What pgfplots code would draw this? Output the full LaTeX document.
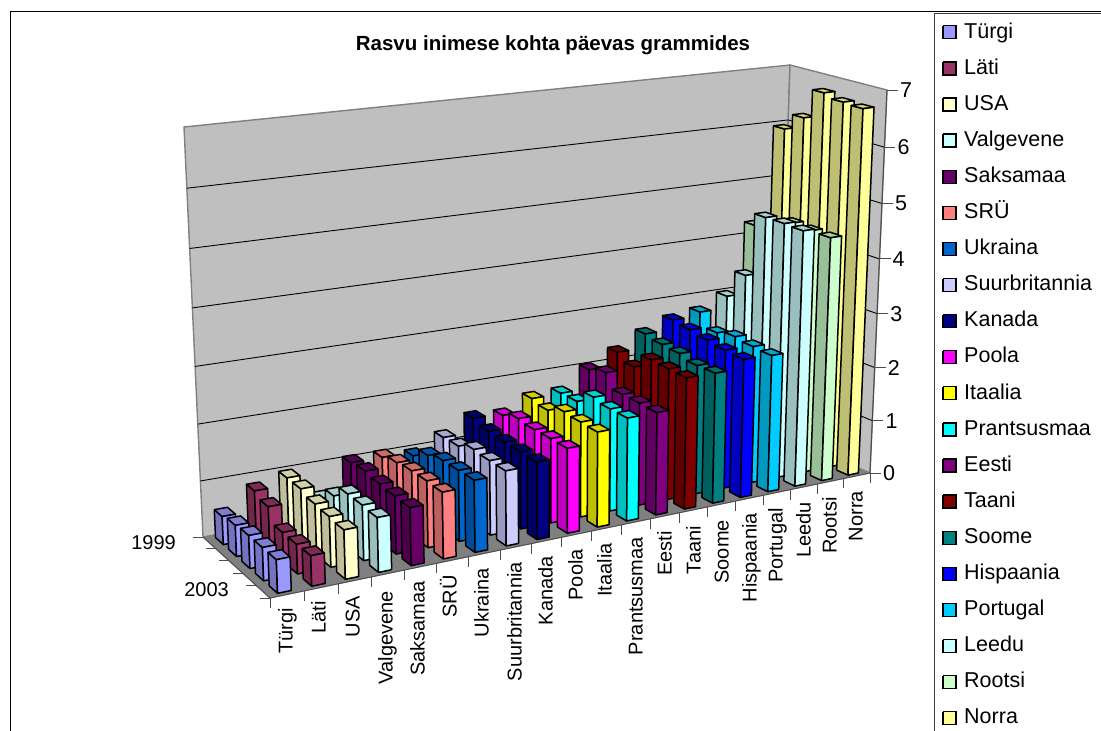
\documentclass[border=0pt]{standalone}
\usepackage{pgfplots}
\usepackage{pgfplotstable}
\usepackage{fontspec}
\setmainfont{Liberation Sans}
\pgfplotsset{compat=1.18}
\definecolor{bar0}{HTML}{9999FF}\definecolor{bar1}{HTML}{993366}\definecolor{bar2}{HTML}{FFFFCC}
\definecolor{bar3}{HTML}{CCFFFF}\definecolor{bar4}{HTML}{660066}\definecolor{bar5}{HTML}{FF8080}
\definecolor{bar6}{HTML}{0066CC}\definecolor{bar7}{HTML}{CCCCFF}\definecolor{bar8}{HTML}{000080}
\definecolor{bar9}{HTML}{FF00FF}\definecolor{bar10}{HTML}{FFFF00}\definecolor{bar11}{HTML}{00FFFF}
\definecolor{bar12}{HTML}{800080}\definecolor{bar13}{HTML}{800000}\definecolor{bar14}{HTML}{008080}
\definecolor{bar15}{HTML}{0000FF}\definecolor{bar16}{HTML}{00CCFF}\definecolor{bar17}{HTML}{CCFFFF}
\definecolor{bar18}{HTML}{CCFFCC}\definecolor{bar19}{HTML}{FFFF99}
\pgfplotstableread{
name a b c d e
Turgi 0.50 0.55 0.58 0.58 0.58
Lati 0.85 0.77 0.52 0.52 0.53
USA 0.98 0.98 0.91 0.89 0.86
Valgevene 0.50 0.75 0.98 0.98 0.96
Saksamaa 1.05 1.09 1.05 1.03 1.02
SRU 1.05 1.14 1.18 1.19 1.18
Ukraina 0.98 1.17 1.26 1.27 1.28
Suurbritannia 1.22 1.24 1.36 1.34 1.34
Kanada 1.48 1.41 1.39 1.39 1.39
Poola 1.44 1.55 1.52 1.53 1.53
Itaalia 1.66 1.61 1.75 1.73 1.72
Prantsusmaa 1.67 1.68 1.92 1.87 1.87
Eesti 2.02 2.12 1.88 1.88 1.87
Taani 2.26 2.14 2.42 2.41 2.40
Soome 2.52 2.47 2.45 2.38 2.39
Hispaania 2.70 2.66 2.61 2.57 2.55
Portugal 2.77 2.52 2.59 2.55 2.53
Leedu 2.99 3.51 4.69 4.70 4.69
Rootsi 4.24 4.30 4.52 4.50 4.49
Norra 5.95 6.25 6.79 6.72 6.70
}\datatbl
\newcommand\proj[3]{%
 \pgfmathsetmacro\tu{#1/20}\pgfmathsetmacro\tv{#2/5}\pgfmathsetmacro\tw{#3/7}%
 \pgfmathsetmacro\bA{(1-\tu)*(1-\tv)*2.352}\pgfmathsetmacro\bB{\tu*(1-\tv)*2.717}%
 \pgfmathsetmacro\bC{\tu*\tv*2.611}\pgfmathsetmacro\bD{(1-\tu)*\tv*2.26}%
 \pgfmathsetmacro\fW{\bA+\bB+\bC+\bD}%
 \pgfmathsetmacro\fX{\bA*203+\bB*778+\bC*870+\bD*270}%
 \pgfmathsetmacro\fY{\bA*537+\bB*433+\bC*473+\bD*598}%
 \pgfmathsetmacro\gX{\bA*184+\bB*790+\bC*887+\bD*254}%
 \pgfmathsetmacro\gY{\bA*127+\bB*65+\bC*90+\bD*171}%
 \pgfmathsetmacro\den{\fW*((1-\tw)+\tw*0.95)}%
 \pgfmathsetmacro\px{((1-\tw)*\fX+\tw*0.95*\gX)/\den}%
 \pgfmathsetmacro\py{((1-\tw)*\fY+\tw*0.95*\gY)/\den}%
}
\newcommand\clist{}
\newcommand\startl{\xdef\clist{}}
\newcommand\pt[3]{\proj{#1}{#2}{#3}\xdef\clist{\clist (\px,\py)}}
\newcommand\emit[1]{\edef\cmd{\noexpand\addplot[#1] coordinates {\clist};}\cmd}
\newcommand\catlab[3]{\node[rotate=90,anchor=base east,inner sep=0pt,font=\fontsize{20}{20}\selectfont] at (axis cs:#2+7.5,#3) {#1};}
\begin{document}
\begin{tikzpicture}
\path[use as bounding box] (0,0) rectangle (1101pt,731pt);
\begin{axis}[at={(0,0)},anchor=south west,scale only axis,width=1101pt,height=731pt,
  xmin=0,xmax=1101,ymin=0,ymax=731,y dir=reverse,hide axis,clip=true]
% chart frame
\addplot[black,line width=1pt] coordinates {(10.5,731) (10.5,11.5) (1101,11.5)};
% walls and floor
\startl\pt{0}{0}{0}\pt{20}{0}{0}\pt{20}{5}{0}\pt{0}{5}{0}\pt{0}{0}{0}
\emit{fill=black!50,draw=black!50,line width=1pt}
\startl\pt{0}{0}{0}\pt{20}{0}{0}\pt{20}{0}{7}\pt{0}{0}{7}\pt{0}{0}{0}
\emit{fill=black!25,draw=black!50,line width=1.4pt}
\startl\pt{20}{0}{0}\pt{20}{5}{0}\pt{20}{5}{7}\pt{20}{0}{7}\pt{20}{0}{0}
\emit{fill=black!25,draw=black!50,line width=1.4pt}
% gridlines
\pgfplotsforeachungrouped \k in {1,...,6}{
 \startl\pt{0}{0}{\k}\pt{20}{0}{\k}\pt{20}{5}{\k}
 \emit{black,line width=0.9pt}
}
% axis lines and ticks
\startl\pt{0}{0}{0}\pt{0}{5}{0}\pt{20}{5}{0}
\emit{black!70,line width=0.9pt}
\startl\pt{20}{5}{0}\pt{20}{5}{7}
\emit{black!70,line width=1pt}
\pgfplotsforeachungrouped \k in {0,...,7}{
 \proj{20}{5}{\k}\pgfmathsetmacro\qx{\px+11}
 \edef\cmd{\noexpand\addplot[black!70,line width=1pt] coordinates {(\px,\py) (\qx,\py)};}\cmd
 \pgfmathsetmacro\qx{\px+13}
 \edef\cmd{\noexpand\node[anchor=west,inner sep=0pt,font=\noexpand\fontsize{21.5}{21.5}\noexpand\selectfont] at (axis cs:\qx,\py) {\k};}\cmd
}
\pgfplotsforeachungrouped \k in {0,...,5}{
 \proj{0}{\k}{0}\pgfmathsetmacro\qx{\px-10}
 \edef\cmd{\noexpand\addplot[black!70,line width=1pt] coordinates {(\px,\py) (\qx,\py)};}\cmd
}
\pgfplotsforeachungrouped \k in {0,...,20}{
 \proj{\k}{5}{0}\pgfmathsetmacro\qy{\py+10}
 \edef\cmd{\noexpand\addplot[black!70,line width=1pt] coordinates {(\px,\py) (\px,\qy)};}\cmd
}
% bars: right to left, back to front
\pgfplotsforeachungrouped \i in {19,18,...,0}{
 \pgfmathsetmacro\uu{\i+0.3}\pgfmathsetmacro\uv{\i+0.7}
 \pgfplotsforeachungrouped \r/\cn in {0/a,1/b,2/c,3/d,4/e}{
  \pgfplotstablegetelem{\i}{\cn}\of\datatbl
  \let\h\pgfplotsretval
  \pgfmathsetmacro\va{\r+0.2}\pgfmathsetmacro\vb{\r+0.8}
  \startl\pt{\uu}{\va}{0}\pt{\uu}{\vb}{0}\pt{\uu}{\vb}{\h}\pt{\uu}{\va}{\h}\pt{\uu}{\va}{0}
  \emit{fill=bar\i!75!black,draw=black,line width=1.5pt,line join=round}
  \startl\pt{\uu}{\va}{\h}\pt{\uv}{\va}{\h}\pt{\uv}{\vb}{\h}\pt{\uu}{\vb}{\h}\pt{\uu}{\va}{\h}
  \emit{fill=bar\i!82!black,draw=black,line width=1.5pt,line join=round}
  \startl\pt{\uu}{\vb}{0}\pt{\uv}{\vb}{0}\pt{\uv}{\vb}{\h}\pt{\uu}{\vb}{\h}\pt{\uu}{\vb}{0}
  \emit{fill=bar\i,draw=black,line width=1.5pt,line join=round}
 }
}
% title
\node[font=\bfseries\fontsize{20.5}{20.5}\selectfont] at (axis cs:553,45) {Rasvu inimese kohta päevas grammides};
% category labels
\catlab{Türgi}{285}{608}\catlab{Läti}{318}{601}\catlab{USA}{352}{596}\catlab{Valgevene}{385}{591}
\catlab{Saksamaa}{417}{581}\catlab{SRÜ}{449}{575}\catlab{Ukraina}{481}{568}\catlab{Suurbritannia}{514}{562}
\catlab{Kanada}{545}{556}\catlab{Poola}{575}{549}\catlab{Itaalia}{604}{543}\catlab{Prantsusmaa}{635}{537}
\catlab{Eesti}{664}{531}\catlab{Taani}{693}{526}\catlab{Soome}{721}{520}\catlab{Hispaania}{749}{513}
\catlab{Portugal}{775}{508}\catlab{Leedu}{803}{502}\catlab{Rootsi}{829}{497}\catlab{Norra}{855}{491}
\node[anchor=east,inner sep=0pt,font=\fontsize{20}{20}\selectfont] at (axis cs:176,543) {1999};
\node[anchor=east,inner sep=0pt,font=\fontsize{20}{20}\selectfont] at (axis cs:229,590) {2003};
% legend
\addplot[black!75,line width=1pt] coordinates {(934.5,731) (934.5,13) (1101,13)};
\pgfplotsforeachungrouped \k in {0,...,19}{
 \pgfmathsetmacro\ly{32.3+\k*36.1}\pgfmathsetmacro\la{\ly-6.5}\pgfmathsetmacro\lb{\ly+6.5}
 \edef\cmd{\noexpand\addplot[fill=bar\k,draw=black,line width=1.25pt] coordinates {(943,\la) (956,\la) (956,\lb) (943,\lb) (943,\la)};}\cmd
}
\pgfplotsforeachungrouped \k/\n in {0/Türgi,1/Läti,2/USA,3/Valgevene,4/Saksamaa,5/SRÜ,6/Ukraina,7/Suurbritannia,8/Kanada,9/Poola,10/Itaalia,11/Prantsusmaa,12/Eesti,13/Taani,14/Soome,15/Hispaania,16/Portugal,17/Leedu,18/Rootsi,19/Norra}{
 \pgfmathsetmacro\ly{38+\k*36.1}
 \edef\cmd{\noexpand\node[anchor=base west,inner sep=0pt,font=\noexpand\fontsize{21.5}{21.5}\noexpand\selectfont] at (axis cs:964,\ly) {\n};}\cmd
}
\end{axis}
\end{tikzpicture}
\end{document}
